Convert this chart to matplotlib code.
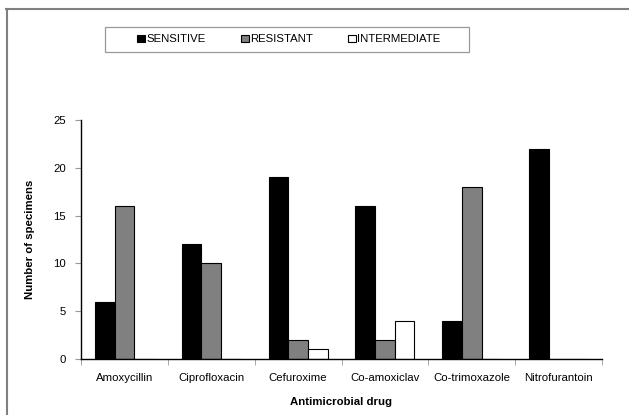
import matplotlib
matplotlib.use('Agg')
import numpy as np
import matplotlib.pyplot as plt
from matplotlib.lines import Line2D
from matplotlib.patches import Rectangle

drugs = ['Amoxycillin', 'Ciprofloxacin', 'Cefuroxime', 'Co-amoxiclav',
         'Co-trimoxazole', 'Nitrofurantoin']
sensitive = [6, 12, 19, 16, 4, 22]
resistant = [16, 10, 2, 2, 18, 0]
intermediate = [0, 0, 1, 4, 0, 0]

plt.rcParams['font.family'] = ['Liberation Sans', 'DejaVu Sans']
fs = 8.2

fig = plt.figure(figsize=(6.29, 4.15), dpi=100)
ax = fig.add_axes([81/629, 1-359/415, (602-81)/629, (359-120)/415])

x = np.arange(len(drugs))
w = 0.226
ax.bar(x - w, sensitive, w, color='black', edgecolor='black', linewidth=0.8, label='SENSITIVE')
ax.bar(x, resistant, w, color='#808080', edgecolor='black', linewidth=0.8, label='RESISTANT')
ax.bar(x + w, intermediate, w, color='white', edgecolor='black', linewidth=0.8, label='INTERMEDIATE')

ax.set_xlim(-0.5, len(drugs) - 0.5)
ax.set_ylim(0, 25)
ax.set_yticks([0, 5, 10, 15, 20, 25])
ax.set_xticks(x)
ax.set_xticklabels(drugs, fontsize=fs)
ax.set_xticks(np.arange(-0.5, len(drugs)), minor=True)
ax.tick_params(axis='x', which='major', length=0, pad=10)
ax.tick_params(axis='x', which='minor', length=4, color='#999999', direction='out')
ax.tick_params(axis='y', labelsize=fs, length=4, color='#999999', pad=7)

for s in ['top', 'right']:
    ax.spines[s].set_visible(False)
ax.spines['left'].set_linewidth(1.0)
ax.spines['bottom'].set_linewidth(1.0)

ax.set_ylabel('Number of specimens', fontsize=fs, fontweight='bold', labelpad=13)
ax.set_xlabel('Antimicrobial drug', fontsize=fs, fontweight='bold', labelpad=10)

handles, labels = ax.get_legend_handles_labels()
leg = fig.legend(handles, labels, loc='center', bbox_to_anchor=(289/629, 1-39.5/415), ncol=3,
                 fontsize=fs, handlelength=0.7, handleheight=0.7, handletextpad=0.1,
                 columnspacing=3.1, frameon=False)

# legend box drawn separately (it has wide side padding)
fig.add_artist(Rectangle((105/629, 1-52/415), 364/629, 25/415, fill=False,
                         edgecolor='#999999', lw=0.9, transform=fig.transFigure))

# outer frame (top and left edge only)
fig.add_artist(Line2D([6/629, 1], [1-9/415, 1-9/415], color='#808080', lw=1.5,
                      transform=fig.transFigure))
fig.add_artist(Line2D([7/629, 7/629], [1-9/415, 0], color='#808080', lw=1.5,
                      transform=fig.transFigure))

fig.savefig('out.png', dpi=100)
